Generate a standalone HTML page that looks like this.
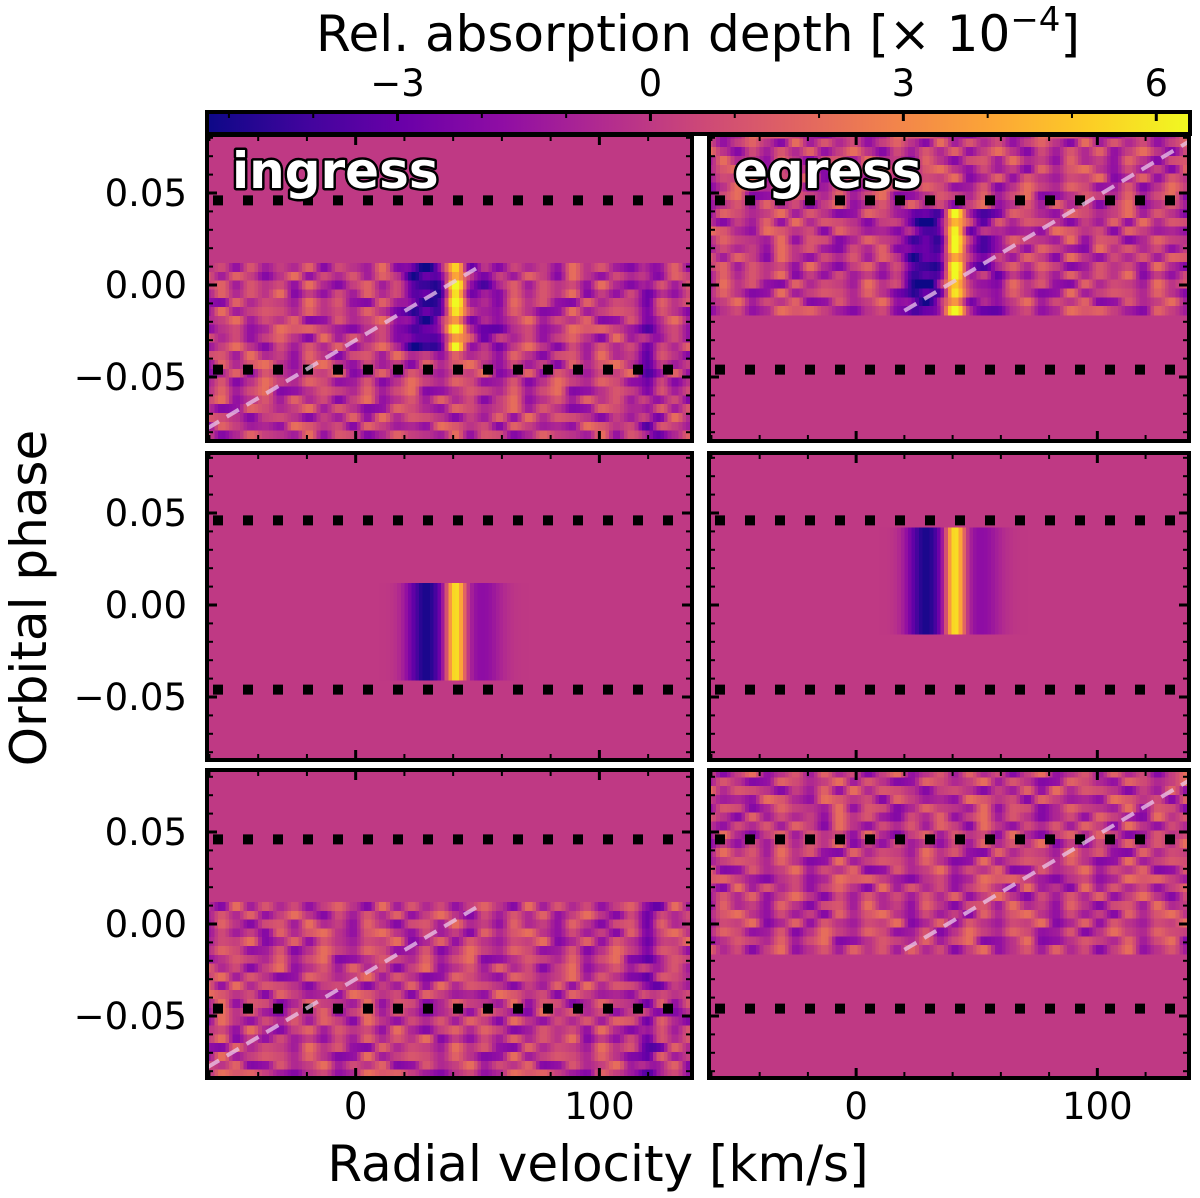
<!DOCTYPE html>
<html><head><meta charset="utf-8"><style>
html,body{margin:0;padding:0;background:#fff;}
svg{display:block;font-family:"DejaVu Sans","Liberation Sans",sans-serif;}
</style></head><body>
<svg id="fig" width="1200" height="1198" viewBox="0 0 1200 1198" xmlns="http://www.w3.org/2000/svg">
<defs>
<linearGradient id="plasma" x1="0" x2="1" y1="0" y2="0">
<stop offset="0" stop-color="#0d0887"/><stop offset="0.1" stop-color="#41049d"/><stop offset="0.2" stop-color="#6a00a8"/><stop offset="0.3" stop-color="#8f0da4"/><stop offset="0.4" stop-color="#b12a90"/><stop offset="0.5" stop-color="#cc4778"/><stop offset="0.6" stop-color="#e16462"/><stop offset="0.7" stop-color="#f2844b"/><stop offset="0.8" stop-color="#fca636"/><stop offset="0.9" stop-color="#fcce25"/><stop offset="1" stop-color="#f0f921"/>
</linearGradient>
</defs>
<g id="root"></g>
</svg>
<script>
// ---- data ----
const colorbarTicks = [-3, 0, 3, 6];
const colorRange = [-5.26, 6.4];
const xTicksMajor = [0, 100];
const yTicksMajor = [0.05, 0.00, -0.05];
const yTickLabels = ["0.05", "0.00", "\u22120.05"];
const xTickLabels = ["0", "100"];
const velocityRange = [-61, 138];
const phaseContact = [0.046, -0.046];
const panelDataTop = [0.012, 0.0845, 0.012, 0.042, 0.012, 0.0845];
const panelDataBottom = [-0.085, -0.015, -0.043, -0.015, -0.085, -0.015];
const panelSignalTop = [0.012, 0.042, 0.012, 0.042, 0, 0];
const panelSignalBottom = [-0.036, -0.015, -0.043, -0.015, 0, 0];
const panelHasNoise = [1, 1, 0, 0, 1, 1];
const darkCenter = 29, darkAmp = -5.0, darkWidth = 5.5;
const brightCenter = 41, brightAmp = 6.6, brightWidth = 2.8;
const stellarResidCenter = 121, stellarResidAmp = -1.8;
const dashStartV = [-61, 20, null, null, -61, 20];
const dashStartP = [-0.078, -0.014, null, null, -0.078, -0.014];
const dashEndV = [52, 138, null, null, 52, 138];
const dashEndP = [0.011, 0.078, null, null, 0.011, 0.078];
const panelLabels = ["ingress", "egress", "", "", "", ""];
const noiseRows = [
"4617253806429153740826351947206381592740361852094736158204957316",
"7293048516372850491637285094163728509416372850941637285094163728",
"3850274619305827461930582746193058274619305827461930582746193058",
"5162837490516283749051628374905162837490516283749051628374905162",
"2947108365294710836529471083652947108365294710836529471083652947",
"6384019257638401925763840192576384019257638401925763840192576384",
"1735926480173592648017359264801735926480173592648017359264801735",
"8520461397852046139785204613978520461397852046139785204613978520",
"4092736158409273615840927361584092736158409273615840927361584092",
"6273815940627381594062738159406273815940627381594062738159406273",
"3518406729351840672935184067293518406729351840672935184067293518",
"7941625083794162508379416250837941625083794162508379416250837941",
"2659038174265903817426590381742659038174265903817426590381742659",
"5386127049538612704953861270495386127049538612704953861270495386",
"9014753826901475382690147538269014753826901475382690147538269014",
"4728360591472836059147283605914728360591472836059147283605914728",
"1863592740186359274018635927401863592740186359274018635927401863",
"6405281937640528193764052819376405281937640528193764052819376405",
"3197460852319746085231974608523197460852319746085231974608523197",
"8542917603854291760385429176038542917603854291760385429176038542"
];
// ---- helpers ----
const stops=[[13,8,135],[65,4,157],[106,0,168],[143,13,164],[177,42,144],[204,71,120],[225,100,98],[242,132,75],[252,166,54],[252,206,37],[240,249,33]];
function cmap(v){let t=(v-colorRange[0])/(colorRange[1]-colorRange[0]);t=Math.max(0,Math.min(1,t))*10;const i=Math.min(9,Math.floor(t)),f=t-i;const a=stops[i],b=stops[i+1];return `rgb(${Math.round(a[0]+(b[0]-a[0])*f)},${Math.round(a[1]+(b[1]-a[1])*f)},${Math.round(a[2]+(b[2]-a[2])*f)})`;}
const NS="http://www.w3.org/2000/svg";
const root=document.getElementById('root');
function mk(tag,attrs,parent){const e=document.createElementNS(NS,tag);for(const k in attrs)e.setAttribute(k,attrs[k]);(parent||root).appendChild(e);return e;}
function gauss(x,c,w){return Math.exp(-0.5*((x-c)/w)**2);}
const colX=[[207,692],[709,1189]];
const rowY=[[135,441],[453,760],[770,1078]];
const rowZero=[285,605,924];
const pxPerPhase=1840;

function drawPanel(idx){
  const col=idx%2,row=Math.floor(idx/2);
  const [x0,x1]=colX[col],[y0,y1]=rowY[row];
  const xs=v=>x0+(v-velocityRange[0])/(velocityRange[1]-velocityRange[0])*(x1-x0);
  const ys=p=>rowZero[row]-p*pxPerPhase;
  const g=mk('g',{});
  
  
  const cid='clip'+idx;
  const cp=mk('clipPath',{id:cid},g);mk('rect',{x:x0,y:y0,width:x1-x0,height:y1-y0},cp);
  const inner=mk('g',{'clip-path':`url(#${cid})`},g);
  const bg=mk('rect',{x:x0,y:y0,width:x1-x0,height:y1-y0,fill:cmap(0)},inner);
  
  
  const dv=1.5, dp=0.0048, coarse=6;
  const pTop=panelDataTop[idx], pBot=panelDataBottom[idx];
  const nRows=Math.round((pTop-pBot)/dp);
  const cells=mk('g',{'shape-rendering':'crispEdges'},inner);
  
  
  const nCols=Math.ceil((velocityRange[1]-velocityRange[0])/dv);
  for(let r=0;r<nRows;r++){
    const pa=pTop-r*dp, pb=pa-dp, pm=(pa+pb)/2;
    const nr=noiseRows[(r+idx*7)%noiseRows.length];
    const off=(r*11+idx*5)%nr.length;
    const inSig=panelSignalTop[idx]!==panelSignalBottom[idx] && pm<=panelSignalTop[idx] && pm>=panelSignalBottom[idx];
    for(let c=0;c<nCols;c++){
      const va=velocityRange[0]+c*dv, vm=va+dv/2;
      let val=0;
      if(panelHasNoise[idx]){
        const u=(vm-velocityRange[0])/coarse, k=Math.floor(u), f=u-k;
        const d1=+nr[(k+off)%nr.length], d2=+nr[(k+1+off)%nr.length];
        const s=f*f*(3-2*f);
        val+=((d1*(1-s)+d2*s)-4.5)*0.48;
        if(col===0) val+=stellarResidAmp*gauss(vm,stellarResidCenter,3);
      }
      if(inSig){
        val+=darkAmp*gauss(vm,darkCenter,darkWidth)+brightAmp*gauss(vm,brightCenter,brightWidth)-1.8*gauss(vm,52,6);
      }
      mk('rect',{x:xs(va).toFixed(1),y:ys(pa).toFixed(1),width:(xs(va+dv)-xs(va)+0.6).toFixed(1),height:(ys(pb)-ys(pa)+0.6).toFixed(1),fill:cmap(val)},cells);
    }
  }
  phaseContact.forEach((p,k)=>{
    const l=mk('line',{x1:x0+6,x2:x1,y1:ys(p),y2:ys(p),stroke:'#000','stroke-width':10,'stroke-dasharray':'10 20'},inner);
    
    
  });
  if(dashStartV[idx]!==null){
    const d=mk('line',{x1:xs(dashStartV[idx]),y1:ys(dashStartP[idx]),x2:xs(dashEndV[idx]),y2:ys(dashEndP[idx]),stroke:'rgba(235,200,235,0.75)','stroke-width':4,'stroke-dasharray':'14 9'},inner);
    
    
  }
  const tg=mk('g',{stroke:'#000'},g);
  
  
  for(let v=-60;v<=138;v+=20){const maj=v%100===0;const L=maj?10:6;const x=xs(v);
    mk('line',{x1:x,x2:x,y1:y1,y2:y1-L,'stroke-width':maj?3:2},tg);mk('line',{x1:x,x2:x,y1:y0,y2:y0+L,'stroke-width':maj?3:2},tg);}
  for(let i=-8;i<=8;i++){const p=i/100;const maj=i%5===0;const L=maj?10:6;const y=ys(p);if(y<y0+2||y>y1-2)continue;
    mk('line',{x1:x0,x2:x0+L,y1:y,y2:y,'stroke-width':maj?3:2},tg);mk('line',{x1:x1,x2:x1-L,y1:y,y2:y,'stroke-width':maj?3:2},tg);}
  const fr=mk('rect',{x:x0,y:y0,width:x1-x0,height:y1-y0,fill:'none',stroke:'#000','stroke-width':4},g);
  
  
  if(panelLabels[idx]){
    const t=mk('text',{x:x0+25,y:y0+53,'font-size':50,'font-weight':'bold',fill:'#fff',stroke:'#000','stroke-width':5,'paint-order':'stroke','stroke-linejoin':'round'},g);
    t.textContent=panelLabels[idx];
    
    
  }
  if(col===0){
    yTicksMajor.forEach((p,k)=>{const t=mk('text',{x:187,y:ys(p)+13,'font-size':37,'text-anchor':'end',fill:'#000'});t.textContent=yTickLabels[k];
      
      });
  }
  if(row===2){
    xTicksMajor.forEach((v,k)=>{const t=mk('text',{x:xs(v),y:1119,'font-size':37,'text-anchor':'middle',fill:'#000'});t.textContent=xTickLabels[k];
      
      });
  }
}
for(let i=0;i<6;i++)drawPanel(i);
const cbx0=207,cbx1=1190,cby0=112,cby1=134;
const cbs=v=>cbx0+(v-colorRange[0])/(colorRange[1]-colorRange[0])*(cbx1-cbx0);
const cb=mk('rect',{x:cbx0,y:cby0,width:cbx1-cbx0,height:cby1-cby0,fill:'url(#plasma)',stroke:'#000','stroke-width':4});


for(let v=-5;v<=6;v++){const maj=colorbarTicks.includes(v);mk('line',{x1:cbs(v),x2:cbs(v),y1:cby0,y2:cby0+(maj?9:6),stroke:'#000','stroke-width':maj?3:2});}
colorbarTicks.forEach(v=>{const t=mk('text',{x:cbs(v),y:96,'font-size':37,'text-anchor':'middle',fill:'#000'});t.textContent=(v<0?'\u2212':'')+Math.abs(v);
  
  });
const ct=mk('text',{x:698,y:51,'font-size':50,'text-anchor':'middle',fill:'#000'});
ct.innerHTML='Rel. absorption depth [\u00d7 10<tspan dy="-20" font-size="34">\u22124</tspan><tspan dy="20">]</tspan>';


const xt=mk('text',{x:598,y:1181,'font-size':50,'text-anchor':'middle',fill:'#000'});xt.textContent='Radial velocity [km/s]';


const yt=mk('text',{x:0,y:0,'font-size':50,'text-anchor':'middle',fill:'#000',transform:'translate(46,598) rotate(-90)'});yt.textContent='Orbital phase';


</script>
</body></html>
